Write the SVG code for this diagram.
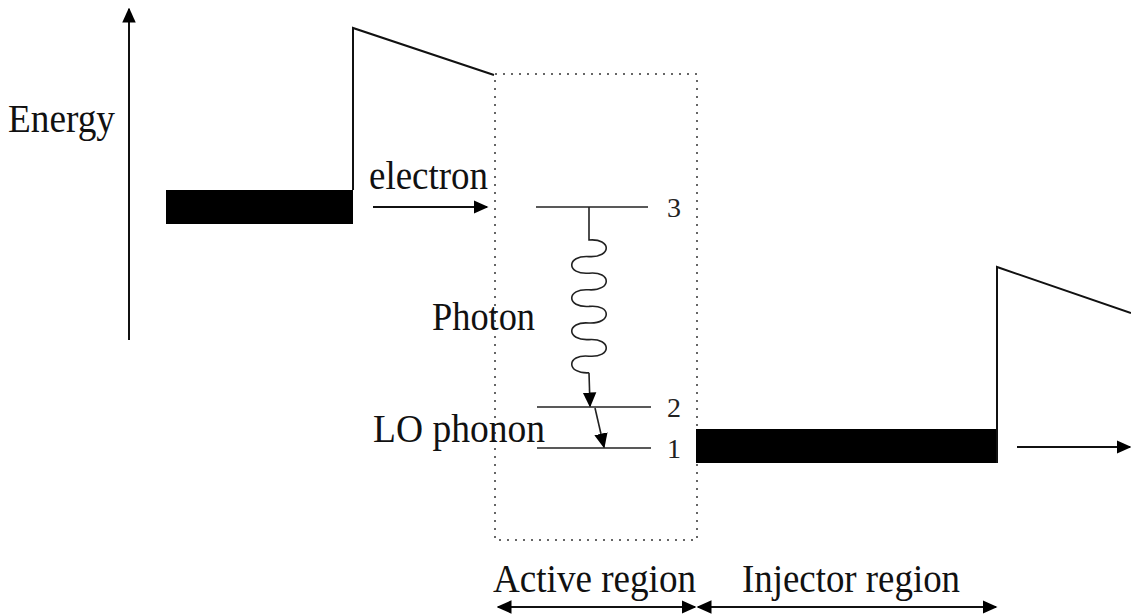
<svg xmlns="http://www.w3.org/2000/svg" width="1131" height="616" viewBox="0 0 1131 616">
<defs>
<style>
.t{font-family:"Liberation Serif","Times New Roman",serif;font-size:41px;fill:#111}
.d{font-family:"Liberation Serif","Times New Roman",serif;font-size:28px;fill:#222}
.ln{stroke:#111;stroke-width:2;fill:none}
.lv{stroke:#222;stroke-width:1.6;fill:none}
.dot{stroke:#666;stroke-width:2;fill:none;stroke-dasharray:2 6}
</style>
<marker id="ah2" viewBox="0 0 10 10" refX="9" refY="5" markerWidth="15" markerHeight="15" markerUnits="userSpaceOnUse" orient="auto-start-reverse">
<path d="M0,0.5 L10,5 L0,9.5 Z" fill="#000"/>
</marker>
</defs>
<rect width="1131" height="616" fill="#fff"/>

<g id="energy-axis">
<line x1="129" y1="340" x2="129" y2="9" class="ln" marker-end="url(#ah2)"/>
<text class="t" x="8" y="132" textLength="107" lengthAdjust="spacingAndGlyphs">Energy</text>
</g>

<g id="left-band">
<rect x="166" y="190" width="187" height="34" fill="#000"/>
<polyline class="ln" points="353,190 353,28 494,75"/>
</g>

<g id="active-region-box">
<rect x="495" y="74" width="202" height="466" class="dot"/>
</g>

<g id="levels">
<line x1="536" y1="207" x2="648" y2="207" class="lv"/>
<line x1="537" y1="407" x2="651" y2="407" class="lv"/>
<line x1="537" y1="448" x2="651" y2="448" class="lv"/>
<text class="d" x="667" y="217">3</text>
<text class="d" x="667" y="417">2</text>
<text class="d" x="667" y="458">1</text>
</g>

<g id="right-band">
<rect x="696" y="429" width="301" height="34" fill="#000"/>
<polyline class="ln" points="997,463 997,267 1131,313"/>
</g>

<g id="labels">
<text class="t" x="369" y="189" textLength="119" lengthAdjust="spacingAndGlyphs">electron</text>
<text class="t" x="432" y="330" textLength="103" lengthAdjust="spacingAndGlyphs">Photon</text>
<text class="t" x="373" y="442" textLength="172" lengthAdjust="spacingAndGlyphs">LO phonon</text>
<text class="t" x="493" y="592" textLength="203" lengthAdjust="spacingAndGlyphs">Active region</text>
<text class="t" x="742" y="592" textLength="218" lengthAdjust="spacingAndGlyphs">Injector region</text>
</g>

<g id="connectors">
<line x1="373" y1="207" x2="487" y2="207" class="ln" marker-end="url(#ah2)"/>
<line x1="1017" y1="447" x2="1130" y2="447" class="ln" marker-end="url(#ah2)"/>
<path class="lv" d="M589,207 L589,240
 C612,238 612,258 589,256.6
 C566,255 566,275 589,273.2
 C612,271 612,291 589,289.8
 C566,288 566,308 589,306.4
 C612,304 612,324 589,323
 C566,321 566,341 589,339.6
 C612,338 612,358 589,356.2
 C566,354 566,374 589,372.8"/>
<line x1="589" y1="372.8" x2="590" y2="406" class="lv" marker-end="url(#ah2)"/>
<line x1="595" y1="408" x2="604" y2="447" class="lv" marker-end="url(#ah2)"/>
<line x1="498" y1="607" x2="695" y2="607" class="ln" marker-start="url(#ah2)" marker-end="url(#ah2)"/>
<line x1="698" y1="607" x2="996" y2="607" class="ln" marker-start="url(#ah2)" marker-end="url(#ah2)"/>
</g>
</svg>
